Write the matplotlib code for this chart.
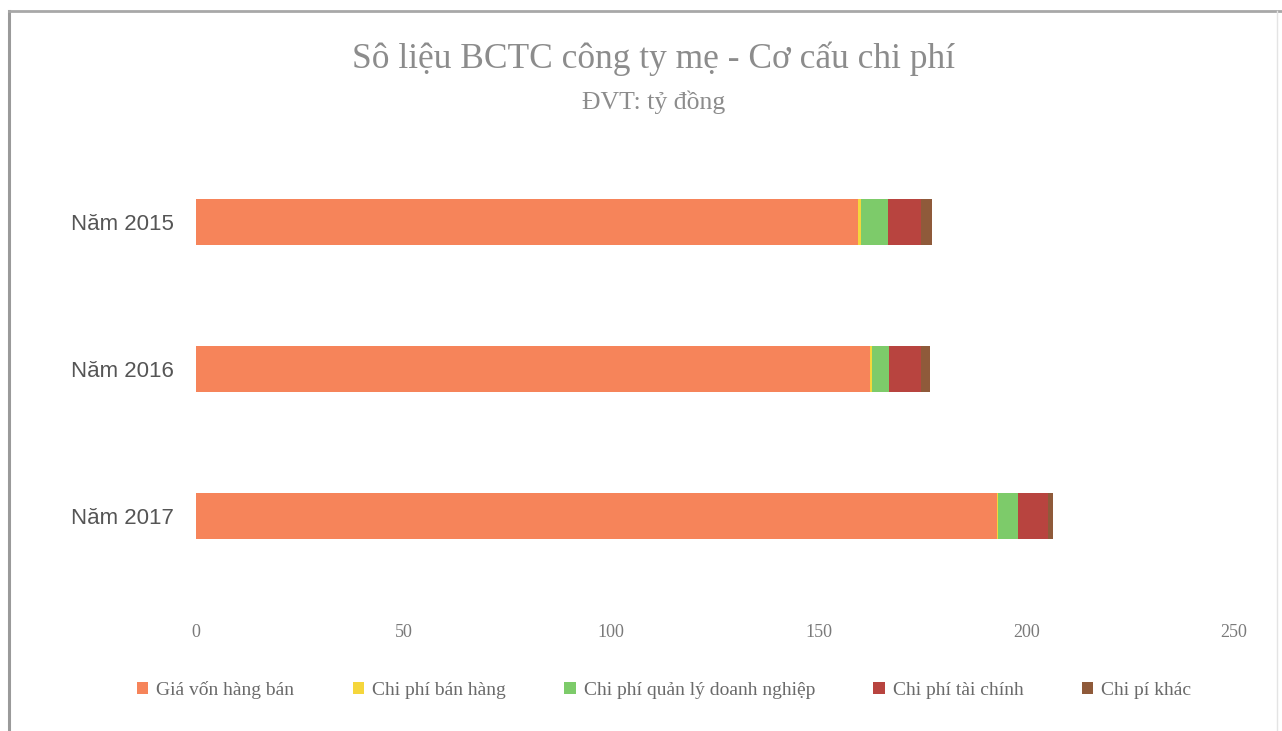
import matplotlib
matplotlib.use("Agg")
import matplotlib.pyplot as plt
from matplotlib.lines import Line2D
import numpy as np

# Cost structure of the parent company (unit: billion VND)
years = ["Năm 2015", "Năm 2016", "Năm 2017"]
series_names = ["Giá vốn hàng bán", "Chi phí bán hàng", "Chi phí quản lý doanh nghiệp",
                "Chi phí tài chính", "Chi pí khác"]
gia_von = [159.5, 162.3, 192.8]
chi_phi_ban_hang = [0.6, 0.4, 0.4]
chi_phi_qldn = [6.5, 4.2, 4.7]
chi_phi_tai_chinh = [8.0, 7.8, 7.2]
chi_phi_khac = [2.6, 2.0, 1.3]
x_ticks = [0, 50, 100, 150, 200, 250]

colors = ["#F6845A", "#F5D63C", "#7DCB6A", "#B8443F", "#8F5A3A"]
values = [gia_von, chi_phi_ban_hang, chi_phi_qldn, chi_phi_tai_chinh, chi_phi_khac]

fig = plt.figure(figsize=(12.82, 7.31), dpi=100)
fig.patch.set_facecolor("white")

# outer chart frame
fig.add_artist(Line2D([9 / 1282, 9 / 1282], [0, 1 - 11 / 731], color="#9a9a9a", lw=2.2,
                      transform=fig.transFigure))
fig.add_artist(Line2D([9 / 1282, 1], [1 - 11 / 731, 1 - 11 / 731], color="#a8a8a8", lw=2.0,
                      transform=fig.transFigure))
fig.add_artist(Line2D([1277 / 1282, 1277 / 1282], [0, 1 - 11 / 731], color="#e4e4e4", lw=1.0,
                      transform=fig.transFigure))

ax = fig.add_axes([196 / 1282, 1 - 589.5 / 731, 1038 / 1282, 441 / 731])
ypos = np.arange(len(years))
left = np.zeros(len(years))
for name, vals, col in zip(series_names, values, colors):
    ax.barh(ypos, vals, left=left, height=0.31, color=col, label=name, edgecolor="none")
    left += np.array(vals)

ax.set_xlim(0, 250)
ax.set_ylim(len(years) - 0.5, -0.5)
ax.set_yticks(ypos)
ax.set_yticklabels(years, family="Liberation Sans", fontsize=16, color="#555555")
ax.set_xticks(x_ticks)
ax.set_xticklabels([str(t) for t in x_ticks], family="Liberation Serif", fontsize=13,
                   color="#7a7a7a")
ax.tick_params(axis="both", length=0)
ax.tick_params(axis="x", pad=25)
ax.tick_params(axis="y", pad=16)
for s in ax.spines.values():
    s.set_visible(False)

fig.text(0.510, 1 - 59 / 731, "Sô liệu BCTC công ty mẹ - Cơ cấu chi phí", ha="center",
         va="center", family="Liberation Serif", fontsize=25.5, color="#8c8c8c")
fig.text(0.510, 1 - 102 / 731, "ĐVT: tỷ đồng", ha="center", va="center",
         family="Liberation Serif", fontsize=18.5, color="#8c8c8c")

handles, labels = ax.get_legend_handles_labels()
leg = fig.legend(handles, labels, loc="center", bbox_to_anchor=(0.518, 1 - 690 / 731),
                 ncol=5, frameon=False, handlelength=0.6, handleheight=0.6,
                 handletextpad=0.4, columnspacing=3.0,
                 prop={"family": "Liberation Serif", "size": 14})
for t in leg.get_texts():
    t.set_color("#6a6a6a")

fig.savefig("out.png", dpi=100, facecolor="white")
